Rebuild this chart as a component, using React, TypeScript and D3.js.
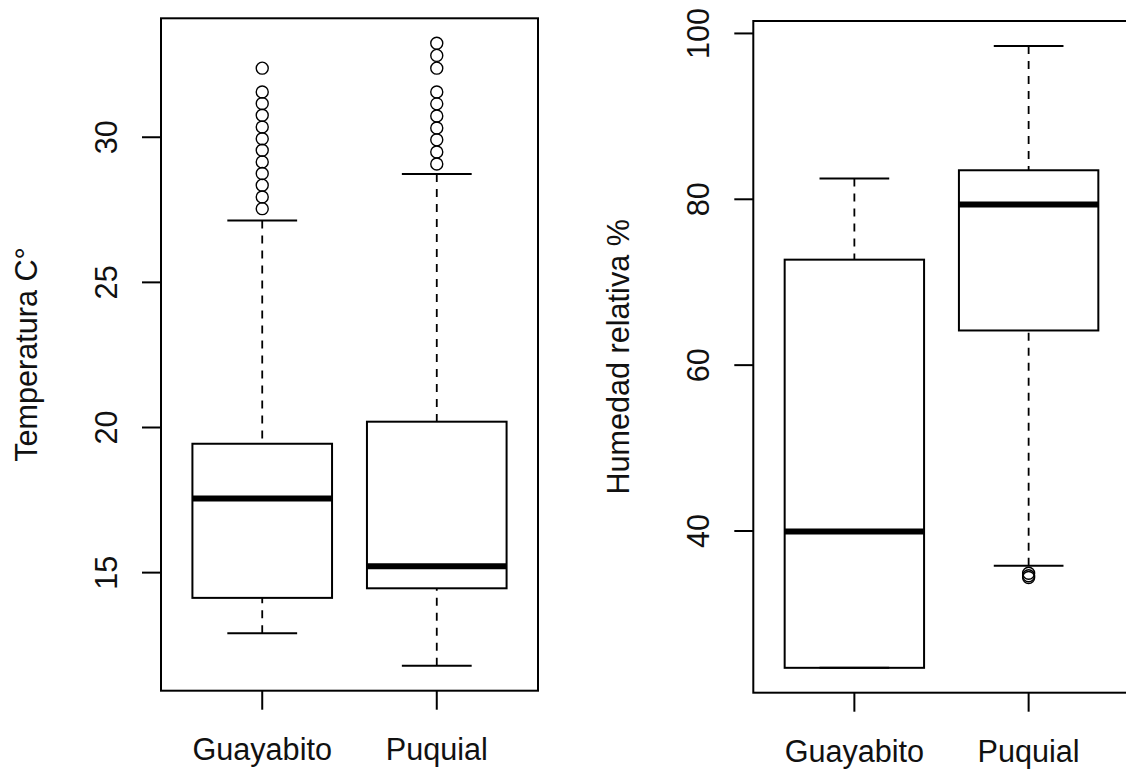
import React from "react";
import * as d3 from "d3";

// Sites on the x axis
const sites = ["Guayabito", "Puquial"];

// Temperature (°C) box statistics per site
const tempLow = [12.91, 11.79];
const tempQ1 = [14.13, 14.46];
const tempMedian = [17.55, 15.22];
const tempQ3 = [19.44, 20.2];
const tempHigh = [27.13, 28.73];
const tempOutGuayabito = [32.38, 31.56, 31.16, 30.76, 30.35, 29.95, 29.55, 29.15, 28.75, 28.35, 27.94, 27.54];
const tempOutPuquial = [33.24, 32.82, 32.38, 31.56, 31.15, 30.73, 30.32, 29.91, 29.49, 29.08];
const tempTicks = [15, 20, 25, 30];

// Relative humidity (%) box statistics per site
const humLow = [23.5, 35.81];
const humQ1 = [23.5, 64.18];
const humMedian = [39.95, 79.36];
const humQ3 = [72.72, 83.5];
const humHigh = [82.5, 98.5];
const humOutGuayabito: number[] = [];
const humOutPuquial = [34.9, 34.6, 34.4];
const humTicks = [40, 60, 80, 100];

const FONT = "'Liberation Sans', Arial, Helvetica, sans-serif";
const FONT_SIZE = 30.6;

function paddedExtent(values: number[], frac = 0.04): [number, number] {
  const [lo, hi] = d3.extent(values) as [number, number];
  const pad = (hi - lo) * frac;
  return [lo - pad, hi + pad];
}

type PanelProps = {
  left: number;
  right: number;
  top: number;
  bottom: number;
  low: number[];
  q1: number[];
  median: number[];
  q3: number[];
  high: number[];
  outliers: number[][];
  ticks: number[];
  title: string;
};

function BoxPanel({ left, right, top, bottom, low, q1, median, q3, high, outliers, ticks, title }: PanelProps) {
  const n = sites.length;
  const x = d3
    .scaleLinear()
    .domain([0.5 - 0.04 * n, n + 0.5 + 0.04 * n])
    .range([left, right]);
  const y = d3
    .scaleLinear()
    .domain(paddedExtent([...low, ...high, ...outliers.flat()]))
    .range([bottom, top]);

  const boxHalf = 0.4;
  const capHalf = 0.2;
  const tickLen = 19;
  const stroke = "#000";

  return (
    <g>
      {/* boxes */}
      {sites.map((s, i) => {
        const c = i + 1;
        const xl = x(c - boxHalf);
        const xr = x(c + boxHalf);
        return (
          <g key={s}>
            <line x1={x(c)} x2={x(c)} y1={y(high[i])} y2={y(q3[i])} stroke={stroke} strokeWidth={1.8} strokeDasharray="8 7" />
            <line x1={x(c)} x2={x(c)} y1={y(low[i])} y2={y(q1[i])} stroke={stroke} strokeWidth={1.8} strokeDasharray="8 7" />
            <line x1={x(c - capHalf)} x2={x(c + capHalf)} y1={y(high[i])} y2={y(high[i])} stroke={stroke} strokeWidth={2} />
            <line x1={x(c - capHalf)} x2={x(c + capHalf)} y1={y(low[i])} y2={y(low[i])} stroke={stroke} strokeWidth={2} />
            <rect x={xl} y={y(q3[i])} width={xr - xl} height={y(q1[i]) - y(q3[i])} fill="none" stroke={stroke} strokeWidth={2} />
            <line x1={xl} x2={xr} y1={y(median[i])} y2={y(median[i])} stroke={stroke} strokeWidth={6} />
            {outliers[i].map((v, k) => (
              <circle key={k} cx={x(c)} cy={y(v)} r={6} fill="none" stroke={stroke} strokeWidth={1.4} />
            ))}
          </g>
        );
      })}

      {/* frame */}
      <rect x={left} y={top} width={right - left} height={bottom - top} fill="none" stroke={stroke} strokeWidth={2} />

      {/* y axis */}
      {ticks.map((t) => (
        <g key={t}>
          <line x1={left - tickLen} x2={left} y1={y(t)} y2={y(t)} stroke={stroke} strokeWidth={2} />
          <text
            transform={`translate(${left - 44.5},${y(t)}) rotate(-90)`}
            textAnchor="middle"
            fontFamily={FONT}
            fontSize={FONT_SIZE}
            fill="#111"
          >
            {t}
          </text>
        </g>
      ))}

      {/* x axis */}
      {sites.map((s, i) => (
        <g key={s}>
          <line x1={x(i + 1)} x2={x(i + 1)} y1={bottom} y2={bottom + tickLen} stroke={stroke} strokeWidth={2} />
          <text x={x(i + 1)} y={bottom + 69.3} textAnchor="middle" fontFamily={FONT} fontSize={FONT_SIZE} fill="#111">
            {s}
          </text>
        </g>
      ))}

      {/* axis title */}
      <text
        transform={`translate(${left - 124.5},${(top + bottom) / 2}) rotate(-90)`}
        textAnchor="middle"
        fontFamily={FONT}
        fontSize={FONT_SIZE}
        fill="#111"
      >
        {title}
      </text>
    </g>
  );
}

export default function App() {
  return (
    <svg
      width={1126}
      height={773}
      style={{ position: "absolute", left: 0, top: 0, background: "#fff", display: "block" }}
    >
      <rect x={0} y={0} width={1126} height={773} fill="#fff" />
      <BoxPanel
        left={161}
        right={538}
        top={18.3}
        bottom={690.7}
        low={tempLow}
        q1={tempQ1}
        median={tempMedian}
        q3={tempQ3}
        high={tempHigh}
        outliers={[tempOutGuayabito, tempOutPuquial]}
        ticks={tempTicks}
        title="Temperatura C°"
      />
      <BoxPanel
        left={753.3}
        right={1129.7}
        top={21}
        bottom={692.7}
        low={humLow}
        q1={humQ1}
        median={humMedian}
        q3={humQ3}
        high={humHigh}
        outliers={[humOutGuayabito, humOutPuquial]}
        ticks={humTicks}
        title="Humedad relativa %"
      />
    </svg>
  );
}
